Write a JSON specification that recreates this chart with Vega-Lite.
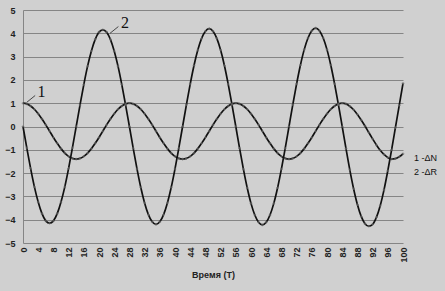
{
  "$schema": "https://vega.github.io/schema/vega-lite/v6.json",
  "width": 380,
  "height": 233,
  "autosize": "none",
  "padding": {"left": 23, "top": 10, "right": 42, "bottom": 48},
  "background": "#d0d0d0",
  "config": {"view": {"stroke": null}, "font": "Liberation Sans"},
  "datasets": {
    "curves": [
      {"t":0,"N":1.0,"R":0},{"t":1,"N":0.97,"R":-0.92},{"t":2,"N":0.88,"R":-1.8},{"t":3,"N":0.74,"R":-2.59},{"t":4,"N":0.55,"R":-3.24},{"t":5,"N":0.32,"R":-3.74},{"t":6,"N":0.07,"R":-4.05},{"t":7,"N":-0.2,"R":-4.15},{"t":8,"N":-0.47,"R":-4.05},{"t":9,"N":-0.72,"R":-3.74},{"t":10,"N":-0.95,"R":-3.24},{"t":11,"N":-1.14,"R":-2.59},{"t":12,"N":-1.28,"R":-1.8},{"t":13,"N":-1.37,"R":-0.92},{"t":14,"N":-1.4,"R":0},{"t":15,"N":-1.37,"R":0.92},{"t":16,"N":-1.28,"R":1.8},{"t":17,"N":-1.14,"R":2.59},{"t":18,"N":-0.95,"R":3.24},{"t":19,"N":-0.72,"R":3.74},{"t":20,"N":-0.47,"R":4.05},{"t":21,"N":-0.2,"R":4.15},{"t":22,"N":0.07,"R":4.05},{"t":23,"N":0.32,"R":3.74},{"t":24,"N":0.55,"R":3.24},{"t":25,"N":0.74,"R":2.59},{"t":26,"N":0.88,"R":1.8},{"t":27,"N":0.97,"R":0.92},
      {"t":28,"N":1.0,"R":0},{"t":29,"N":0.97,"R":-0.93},{"t":30,"N":0.88,"R":-1.82},{"t":31,"N":0.74,"R":-2.62},{"t":32,"N":0.55,"R":-3.28},{"t":33,"N":0.32,"R":-3.78},{"t":34,"N":0.07,"R":-4.09},{"t":35,"N":-0.2,"R":-4.2},{"t":36,"N":-0.47,"R":-4.09},{"t":37,"N":-0.72,"R":-3.78},{"t":38,"N":-0.95,"R":-3.28},{"t":39,"N":-1.14,"R":-2.62},{"t":40,"N":-1.28,"R":-1.82},{"t":41,"N":-1.37,"R":-0.93},{"t":42,"N":-1.4,"R":0},{"t":43,"N":-1.37,"R":0.93},{"t":44,"N":-1.28,"R":1.82},{"t":45,"N":-1.14,"R":2.62},{"t":46,"N":-0.95,"R":3.28},{"t":47,"N":-0.72,"R":3.78},{"t":48,"N":-0.47,"R":4.09},{"t":49,"N":-0.2,"R":4.2},{"t":50,"N":0.07,"R":4.09},{"t":51,"N":0.32,"R":3.78},{"t":52,"N":0.55,"R":3.28},{"t":53,"N":0.74,"R":2.62},{"t":54,"N":0.88,"R":1.82},{"t":55,"N":0.97,"R":0.93},
      {"t":56,"N":1.0,"R":0},{"t":57,"N":0.97,"R":-0.94},{"t":58,"N":0.88,"R":-1.83},{"t":59,"N":0.74,"R":-2.63},{"t":60,"N":0.55,"R":-3.3},{"t":61,"N":0.32,"R":-3.8},{"t":62,"N":0.07,"R":-4.11},{"t":63,"N":-0.2,"R":-4.22},{"t":64,"N":-0.47,"R":-4.11},{"t":65,"N":-0.72,"R":-3.8},{"t":66,"N":-0.95,"R":-3.3},{"t":67,"N":-1.14,"R":-2.63},{"t":68,"N":-1.28,"R":-1.83},{"t":69,"N":-1.37,"R":-0.94},{"t":70,"N":-1.4,"R":0},{"t":71,"N":-1.37,"R":0.94},{"t":72,"N":-1.28,"R":1.83},{"t":73,"N":-1.14,"R":2.63},{"t":74,"N":-0.95,"R":3.3},{"t":75,"N":-0.72,"R":3.8},{"t":76,"N":-0.47,"R":4.11},{"t":77,"N":-0.2,"R":4.22},{"t":78,"N":0.07,"R":4.11},{"t":79,"N":0.32,"R":3.8},{"t":80,"N":0.55,"R":3.3},{"t":81,"N":0.74,"R":2.63},{"t":82,"N":0.88,"R":1.83},{"t":83,"N":0.97,"R":0.94},
      {"t":84,"N":1.0,"R":0},{"t":85,"N":0.97,"R":-0.95},{"t":86,"N":0.87,"R":-1.86},{"t":87,"N":0.72,"R":-2.67},{"t":88,"N":0.52,"R":-3.35},{"t":89,"N":0.28,"R":-3.86},{"t":90,"N":0.02,"R":-4.17},{"t":91,"N":-0.26,"R":-4.28},{"t":92,"N":-0.53,"R":-4.2},{"t":93,"N":-0.79,"R":-3.9},{"t":94,"N":-1.02,"R":-3.4},{"t":95,"N":-1.2,"R":-2.72},{"t":96,"N":-1.33,"R":-1.9},{"t":97,"N":-1.4,"R":-1.0},{"t":98,"N":-1.38,"R":-0.05},{"t":99,"N":-1.3,"R":0.9},{"t":100,"N":-1.17,"R":1.85}
    ],
    "labels": [
      {"t":3.8,"v":1.47,"l":"1"},
      {"t":25.8,"v":4.43,"l":"2"}
    ],
    "leaders": [
      {"t":1.0,"v":1.04,"t2":3.2,"v2":1.33},
      {"t":22.9,"v":4.0,"t2":25.1,"v2":4.29}
    ]
  },
  "encoding": {
    "x": {
      "field": "t", "type": "quantitative",
      "scale": {"domain": [0, 100], "nice": false},
      "axis": {
        "values": [0,4,8,12,16,20,24,28,32,36,40,44,48,52,56,60,64,68,72,76,80,84,88,92,96,100],
        "labelAngle": -90, "labelAlign": "right", "labelBaseline": "middle",
        "labelFontSize": 9, "labelFontWeight": "bold", "labelColor": "#222",
        "labelPadding": 4, "labelFlush": false, "labelOverlap": false,
        "grid": false, "domain": false, "ticks": false,
        "title": "Время (T)", "titleFontSize": 9, "titleFontWeight": "bold",
        "titleColor": "#222", "titlePadding": 8
      }
    },
    "y": {
      "field": "v", "type": "quantitative",
      "scale": {"domain": [-5, 5], "nice": false},
      "axis": {
        "values": [-5,-4,-3,-2,-1,0,1,2,3,4,5],
        "labelFontSize": 9, "labelFontWeight": "bold", "labelColor": "#222",
        "labelPadding": 8, "labelOverlap": false, "ticks": false,
        "grid": true, "gridColor": "#858585", "gridWidth": 1,
        "domain": true, "domainColor": "#858585",
        "title": null
      }
    }
  },
  "layer": [
    {
      "data": {"name": "curves"},
      "transform": [{"fold": ["N", "R"], "as": ["s", "v"]}],
      "mark": {"type": "line", "strokeWidth": 1.7, "interpolate": "monotone"},
      "encoding": {
        "color": {
          "field": "s", "type": "nominal",
          "scale": {"domain": ["N", "R"], "range": ["#111111", "#111111"]},
          "legend": {
            "orient": "none", "legendX": 382, "legendY": 143,
            "title": null, "symbolOpacity": 0, "symbolSize": 0, "symbolStrokeWidth": 0,
            "labelOffset": 0,
            "labelExpr": "datum.label == 'N' ? '1  -ΔN' : '2  -ΔR'",
            "labelFontSize": 9, "labelColor": "#111", "rowPadding": 4
          }
        }
      }
    },
    {
      "data": {"name": "curves"},
      "transform": [{"fold": ["N", "R"], "as": ["s", "v"]}],
      "mark": {"type": "point", "shape": "cross", "filled": true, "size": 7, "color": "#6a6a6a", "opacity": 0.7},
      "encoding": {"detail": {"field": "s"}}
    },
    {
      "data": {"name": "leaders"},
      "mark": {"type": "rule", "color": "#222", "strokeWidth": 0.8},
      "encoding": {
        "x2": {"field": "t2"},
        "y2": {"field": "v2"}
      }
    },
    {
      "data": {"name": "labels"},
      "mark": {"type": "text", "font": "Liberation Serif", "fontSize": 16, "color": "#111", "align": "left", "baseline": "middle"},
      "encoding": {
        "text": {"field": "l"}
      }
    }
  ]
}
